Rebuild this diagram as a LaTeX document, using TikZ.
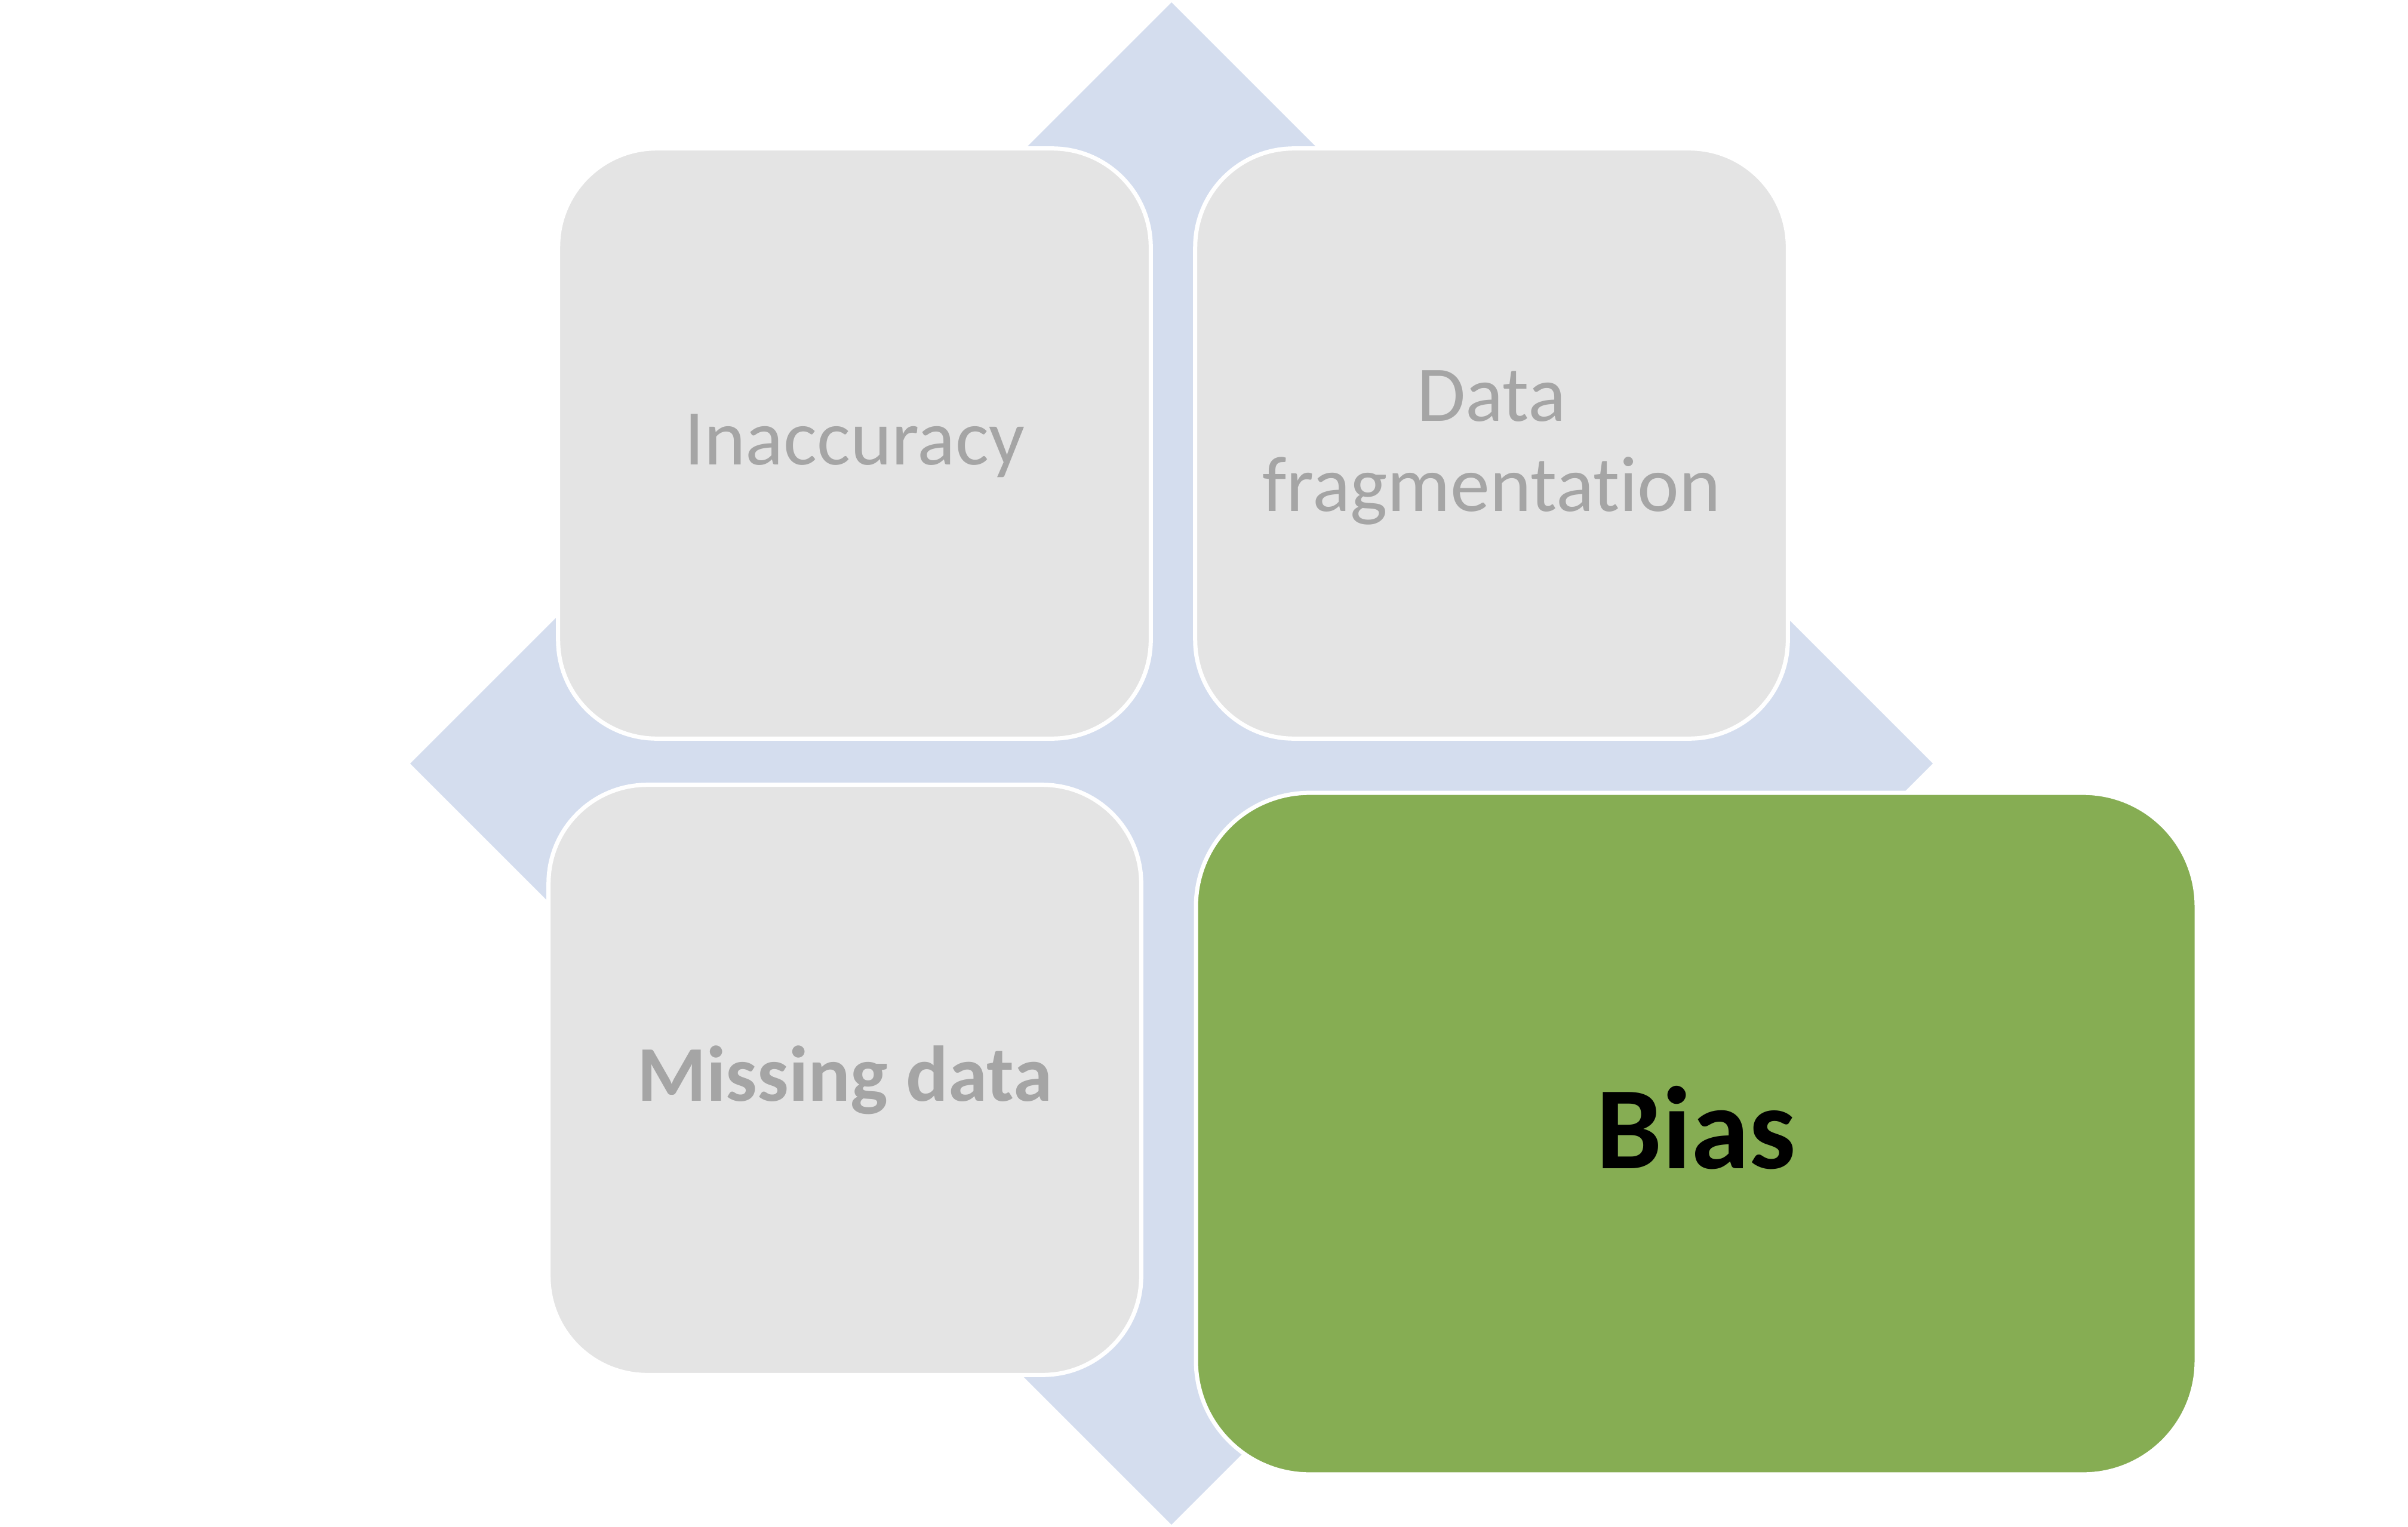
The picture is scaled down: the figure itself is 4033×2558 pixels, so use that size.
\documentclass[tikz,border=0pt]{standalone}
\usepackage{fontspec}
\setmainfont{Carlito}[Ligatures={NoCommon}]
\definecolor{diamfill}{HTML}{D4DDEE}
\definecolor{boxgray}{HTML}{E4E4E4}
\definecolor{textgray}{HTML}{A5A5A5}
\definecolor{biasgreen}{HTML}{86AD53}
\begin{document}
\begin{tikzpicture}[x=0.01cm,y=-0.01cm,
  quad/.style={draw=white, line width=0.07cm, rectangle, inner sep=0pt, outer sep=0pt},
  graybox/.style={quad, fill=boxgray, text=textgray, rounded corners=1.65cm,
    minimum width=9.92cm, minimum height=9.88cm,
    font=\fontsize{37.6pt}{43pt}\selectfont},
  graylabel/.style={text=textgray, inner sep=0pt, outer sep=0pt,
    font=\fontsize{37.6pt}{43pt}\selectfont},
  onelinegray/.style={text height=0.924cm, text depth=0.224cm},
  greenbox/.style={quad, fill=biasgreen, text=black, rounded corners=1.9cm,
    minimum width=16.75cm, minimum height=11.41cm,
    font=\fontsize{56pt}{67pt}\selectfont\bfseries,
    text height=1.4cm, text depth=0.24cm}]
\useasboundingbox (0,0) rectangle (4033,2558);
\fill[diamfill] (1962,4) -- (3237,1279) -- (1962,2554) -- (687,1279) -- cycle;
\node[graybox, onelinegray] (inacc) at (1431,743) {Inaccuracy};
\node[graybox] (frag) at (2498,743) {};
\node[graylabel, align=center] (fragtext) at ([yshift=-0.07cm]frag.center) {Data\\fragmentation};
\node[graybox, onelinegray, font=\fontsize{37.6pt}{43pt}\selectfont\bfseries] (missing) at (1415,1809) {Missing data};
\node[greenbox] (bias) at (2841,1899) {Bias};
\end{tikzpicture}
\end{document}
